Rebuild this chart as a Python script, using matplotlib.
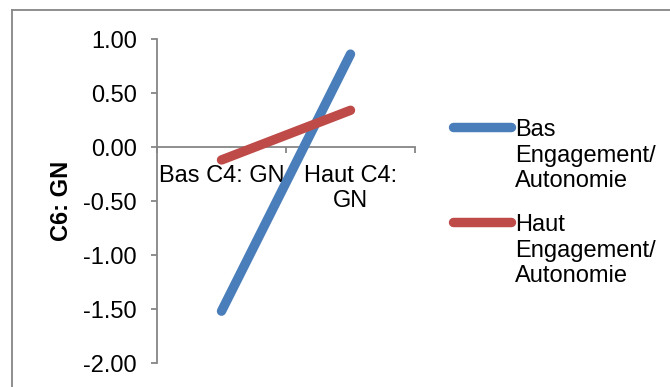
import matplotlib
matplotlib.use("Agg")
import matplotlib.pyplot as plt
from matplotlib.lines import Line2D

plt.rcParams['font.family'] = ['Liberation Sans', 'DejaVu Sans']

categories = ["Bas C4: GN", "Haut C4:\nGN"]
bas_engagement = [-1.52, 0.86]
haut_engagement = [-0.12, 0.34]
series_names = ["Bas\nEngagement/\nAutonomie", "Haut\nEngagement/\nAutonomie"]
yticks = [-2.0, -1.5, -1.0, -0.5, 0.0, 0.5, 1.0]
ylabel = "C6: GN"

blue = "#4A7EBB"
red = "#BE4B48"
gray = "#868686"
fs = 17

W, H = 670, 387
fig = plt.figure(figsize=(W / 100, H / 100), dpi=100)
ax = fig.add_axes([157 / W, 1 - 363 / H, (415 - 157) / W, (363 - 39) / H])

x = list(range(len(categories)))
ax.plot(x, bas_engagement, color=blue, lw=6.8, solid_capstyle='round', zorder=3)
ax.plot(x, haut_engagement, color=red, lw=6.8, solid_capstyle='round', zorder=3)

ax.set_xlim(-0.5, len(categories) - 0.5)
ax.set_ylim(min(yticks), max(yticks))
ax.set_yticks(yticks)
ax.set_yticklabels([f"{v:.2f}" for v in yticks], fontsize=fs)

ax.spines['top'].set_visible(False)
ax.spines['right'].set_visible(False)
ax.spines['bottom'].set_position(('data', 0))
for s in ('left', 'bottom'):
    ax.spines[s].set_color(gray)
    ax.spines[s].set_linewidth(1.3)

ax.set_xticks([i - 0.5 for i in range(len(categories) + 1)])
ax.set_xticklabels([])
ax.set_xticks(x, minor=True)
ax.set_xticklabels(categories, minor=True, fontsize=fs, linespacing=1.15)
ax.tick_params(axis='x', which='major', direction='out', length=4.5, width=1.3, color=gray)
ax.tick_params(axis='x', which='minor', length=0, pad=13)
ax.tick_params(axis='y', direction='out', length=4.5, width=1.3, color=gray, pad=10)

ax.set_ylabel(ylabel, fontsize=fs, fontweight='bold')
ax.yaxis.label.set_va('center')
ax.yaxis.set_label_coords(-0.372, 0.5)

# legend (manual, handle aligned with first line)
for yc, col, name in [(127, blue, series_names[0]), (222, red, series_names[1])]:
    fig.add_artist(Line2D([453 / W, 511 / W], [1 - yc / H, 1 - yc / H], color=col,
                          lw=6.8, solid_capstyle='round', transform=fig.transFigure))
    fig.text(515 / W, 1 - (yc - 8) / H, name, fontsize=fs, va='top', ha='left',
             linespacing=1.22)

# outer chart frame
fig.add_artist(Line2D([12 / W, 1.0], [1 - 10 / H, 1 - 10 / H], color=gray, lw=1.3,
                      transform=fig.transFigure))
fig.add_artist(Line2D([12 / W, 12 / W], [1 - 10 / H, 0.0], color=gray, lw=1.3,
                      transform=fig.transFigure))

fig.savefig("out.png", dpi=100)
